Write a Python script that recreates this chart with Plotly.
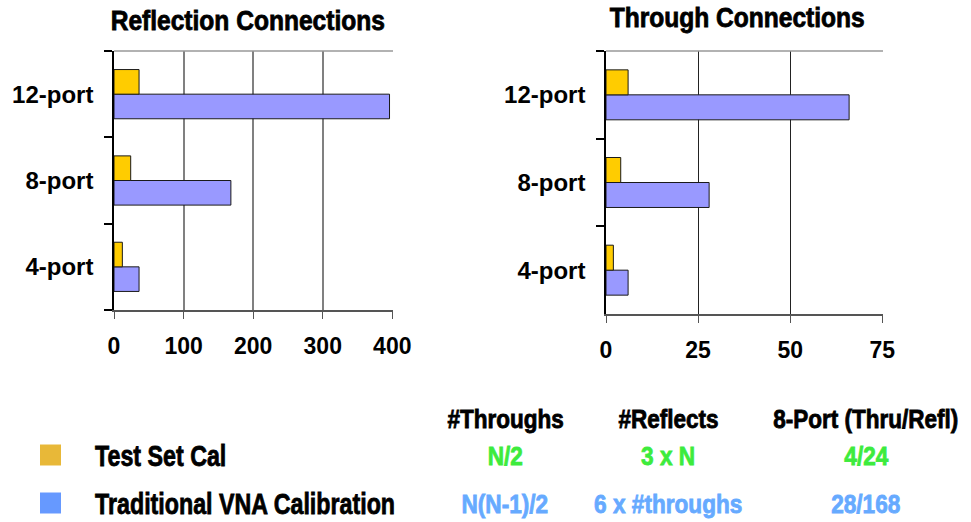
import json
import plotly.graph_objects as go

# ---- data ----
ports = ["4-port", "8-port", "12-port"]
refl_test_set = [12, 24, 36]        # 3 x N
refl_traditional = [36, 168, 396]   # 6 x #throughs
thru_test_set = [2, 4, 6]           # N/2
thru_traditional = [6, 28, 66]      # N(N-1)/2

series_names = ["Test Set Cal", "Traditional VNA Calibration"]
table_headers = ["#Throughs", "#Reflects", "8-Port (Thru/Refl)"]
table_test_set = ["N/2", "3 x N", "4/24"]
table_traditional = ["N(N-1)/2", "6 x #throughs", "28/168"]

# ---- styling ----
W, H = 971, 522
YELLOW = "#FFCC00"
LAVENDER = "#9999FF"
EDGE = "#1a1a1a"
GREEN = "#3DEB3D"
LIGHT_BLUE = "#66AAFF"
SWATCH_YELLOW = "#E8B838"
SWATCH_BLUE = "#6699FF"
SANS = "Liberation Sans, Arial, Helvetica, sans-serif"


def px_x(p):
    return p / W


def px_y(p):
    return 1 - p / H


fig = go.Figure()

panels = [
    ("x", "y", refl_traditional, refl_test_set),
    ("x2", "y2", thru_traditional, thru_test_set),
]
for xa, ya, trad, test in panels:
    fig.add_trace(go.Bar(
        y=ports, x=trad, orientation="h", xaxis=xa, yaxis=ya,
        name=series_names[1], marker=dict(color=LAVENDER, line=dict(color=EDGE, width=1)),
        showlegend=False,
    ))
    fig.add_trace(go.Bar(
        y=ports, x=test, orientation="h", xaxis=xa, yaxis=ya,
        name=series_names[0], marker=dict(color=YELLOW, line=dict(color=EDGE, width=1)),
        showlegend=False,
    ))

tick_font = dict(family=SANS, size=23, color="#000000", weight="bold")

common_x = dict(
    showline=True, linecolor="#555555", linewidth=1.5,
    ticks="outside", ticklen=7, tickcolor="#555555", tickwidth=1,
    showgrid=True, zeroline=False, tickfont=tick_font,
    ticklabelstandoff=8, fixedrange=True, automargin=False,
)
common_y = dict(
    type="category", categoryorder="array", categoryarray=ports,
    showline=True, linecolor="#000000", linewidth=1.5,
    ticks="outside", ticklen=8, tickcolor="#000000", tickwidth=1.5,
    tickson="boundaries", showgrid=False, zeroline=False,
    tickfont=dict(tick_font, size=24), ticklabelstandoff=14,
    fixedrange=True, automargin=False,
)

fig.update_layout(
    template="none",
    width=W, height=H, autosize=False,
    margin=dict(l=0, r=0, t=0, b=0, pad=0, autoexpand=False),
    paper_bgcolor="white", plot_bgcolor="white",
    barmode="group", bargap=0.43, bargroupgap=0,
    xaxis=dict(common_x, domain=[px_x(114), px_x(393)], range=[0, 401],
               tickvals=[0, 100, 200, 300, 400], gridcolor="#808080", gridwidth=1.5,
               anchor="y"),
    yaxis=dict(common_y, domain=[px_y(310), px_y(51)], anchor="x"),
    xaxis2=dict(common_x, domain=[px_x(606), px_x(883)], range=[0, 75.2],
                tickvals=[0, 25, 50, 75], gridcolor="#222222", gridwidth=1,
                anchor="y2"),
    yaxis2=dict(common_y, domain=[px_y(314), px_y(51)], anchor="x2"),
    showlegend=False,
)

# top border of each plot area
for xr, yr in (("x domain", "y domain"), ("x2 domain", "y2 domain")):
    fig.add_shape(type="line", xref=xr, yref=yr, x0=0, x1=1, y0=1, y1=1,
                  line=dict(color="#999999", width=1.5))

# horizontal squeeze per annotation, giving the condensed lettering
squeeze = []


def add_text(text, x, y, size, color="#000000", xanchor="center", sx=1.0):
    fig.add_annotation(text=text, xref="paper", yref="paper", x=px_x(x), y=px_y(y),
                       showarrow=False, xanchor=xanchor, yanchor="middle",
                       font=dict(family=SANS, size=size, color=color, weight="bold"))
    squeeze.append(sx)


# panel titles
add_text("Reflection Connections", 248, 21, 27, sx=0.91)
add_text("Through Connections", 737, 18, 27, sx=0.91)

# summary table below the charts
col_centers = [505, 668, 866]
for cx, txt in zip(col_centers, table_headers):
    add_text(txt, cx, 419, 25, sx=0.9)

row_specs = [
    (455, SWATCH_YELLOW, series_names[0], table_test_set, GREEN),
    (503, SWATCH_BLUE, series_names[1], table_traditional, LIGHT_BLUE),
]
for cy, swatch, label, cells, color in row_specs:
    fig.add_shape(type="rect", xref="paper", yref="paper",
                  x0=px_x(40), x1=px_x(61), y0=px_y(cy + 10.5), y1=px_y(cy - 10.5),
                  fillcolor=swatch, line=dict(width=0))
    add_text(label, 93, cy, 30, xanchor="left", sx=0.775)
    for cx, txt in zip(col_centers, cells):
        add_text(txt, cx, cy + 1, 26, color=color, sx=0.87)

# condense the annotation lettering and give it a heavier stroke
post_js = """
var gd = document.getElementById('{plot_id}');
var sx = SQUEEZE;
gd.querySelectorAll('g.annotation').forEach(function (g) {
  var i = +g.getAttribute('data-index');
  var t = g.querySelector('text.annotation-text');
  if (!t || !sx[i]) return;
  var bb = t.getBBox();
  var ann = gd.layout.annotations[i];
  var px = ann.xanchor === 'left' ? bb.x : bb.x + bb.width / 2;
  t.setAttribute('transform',
    'translate(' + px + ',0) scale(' + sx[i] + ',1) translate(' + (-px) + ',0)');
  t.style.stroke = t.style.fill;
  t.style.strokeWidth = '0.8px';
});
""".replace("SQUEEZE", json.dumps(squeeze))

fig.write_html("out.html", post_script=post_js)
